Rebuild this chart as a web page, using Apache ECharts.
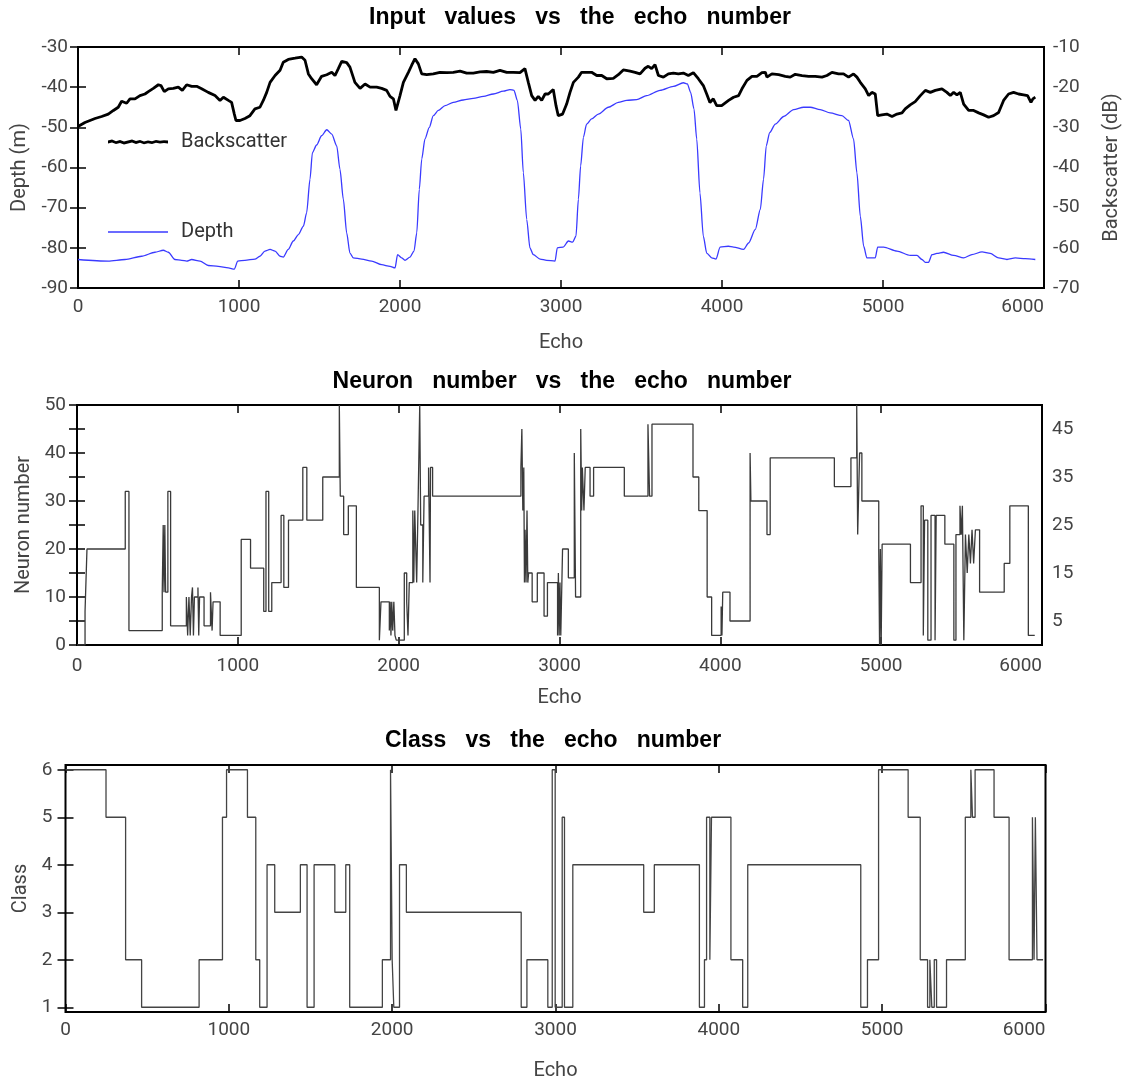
<!DOCTYPE html>
<html>
<head>
<meta charset="utf-8">
<script src="https://cdn.jsdelivr.net/npm/echarts@6/dist/echarts.min.js"></script>
<style>
html,body{margin:0;padding:0;background:#fff;}
#chart{width:1130px;height:1082px;}
</style>
</head>
<body>
<div id="chart"></div>
<script>
// ---------- DATA ----------
const xTicks = [0, 1000, 2000, 3000, 4000, 5000, 6000];

const backscatterEcho = [0,43,106,147,188,220,250,271,302,323,354,385,416,437,468,499,515,536,561,592,623,648,675,706,737,768,809,851,882,903,934,954,971,981,1006,1037,1068,1099,1130,1151,1172,1193,1224,1255,1275,1306,1348,1389,1410,1431,1451,1482,1513,1545,1576,1596,1617,1638,1669,1689,1720,1752,1783,1814,1855,1886,1917,1938,1959,1975,2000,2021,2052,2072,2093,2114,2135,2166,2207,2248,2290,2331,2373,2414,2455,2497,2538,2580,2621,2663,2704,2745,2776,2797,2818,2839,2859,2880,2901,2921,2952,2969,2983,3010,3035,3056,3077,3108,3128,3159,3190,3222,3253,3284,3325,3356,3387,3429,3460,3491,3522,3542,3563,3584,3605,3636,3667,3698,3729,3760,3791,3822,3853,3884,3905,3925,3946,3967,3998,4041,4072,4103,4124,4155,4186,4217,4248,4269,4279,4310,4352,4393,4424,4455,4497,4538,4579,4621,4652,4683,4724,4755,4786,4817,4838,4859,4890,4911,4931,4952,4967,4993,5024,5056,5087,5118,5138,5169,5200,5232,5263,5294,5325,5366,5397,5418,5439,5459,5480,5501,5532,5563,5594,5625,5656,5687,5718,5749,5780,5811,5842,5873,5898,5919,5931,5946];
const backscatterDb = [-29.8,-28.8,-27.8,-27.3,-26.7,-25.8,-25.0,-23.5,-24.0,-22.9,-22.9,-22.1,-21.7,-21.1,-20.3,-19.4,-19.6,-21.1,-20.4,-20.3,-20.0,-20.8,-19.4,-19.8,-19.8,-20.4,-21.3,-22.1,-23.3,-22.5,-23.3,-23.8,-26.7,-28.3,-28.3,-27.8,-27.1,-25.4,-25.0,-23.3,-21.3,-18.8,-17.1,-15.8,-13.8,-13.1,-12.8,-12.5,-13.3,-16.7,-17.9,-19.4,-17.3,-16.9,-16.3,-17.1,-15.4,-13.6,-13.9,-15.0,-18.8,-20.3,-19.2,-20.0,-20.0,-20.3,-20.8,-22.3,-22.9,-25.8,-22.1,-18.8,-16.3,-14.6,-12.9,-14.2,-16.7,-16.9,-16.7,-16.3,-16.4,-16.3,-16.0,-16.5,-16.5,-16.2,-16.1,-16.3,-15.8,-16.3,-16.3,-16.4,-15.4,-18.8,-22.1,-23.3,-22.3,-23.3,-21.7,-21.7,-20.6,-24.6,-27.1,-26.7,-24.2,-21.3,-18.8,-17.5,-16.3,-16.3,-16.3,-17.1,-17.1,-17.9,-17.8,-16.9,-15.7,-16.0,-16.3,-16.7,-15.3,-14.8,-15.4,-14.4,-17.1,-17.5,-16.7,-16.5,-16.7,-16.5,-17.1,-16.4,-17.9,-19.6,-21.7,-23.8,-22.9,-24.6,-24.6,-23.3,-22.5,-22.1,-20.4,-18.3,-17.3,-17.3,-16.4,-16.3,-17.5,-16.7,-16.9,-17.3,-17.5,-16.8,-17.1,-17.3,-17.3,-17.5,-17.1,-16.3,-16.7,-16.7,-17.5,-16.7,-17.5,-18.8,-20.4,-22.1,-21.3,-21.7,-27.1,-26.9,-26.7,-27.3,-26.7,-26.4,-25.4,-24.4,-23.6,-22.1,-20.8,-21.3,-20.8,-20.4,-21.3,-22.1,-21.3,-21.9,-21.3,-24.2,-25.8,-25.8,-26.4,-26.9,-27.5,-27.1,-26.3,-23.3,-21.7,-21.3,-21.7,-21.9,-22.1,-23.8,-22.9,-22.5];

const depthEcho = [0,188,292,395,478,530,561,602,644,675,706,758,809,871,934,971,992,1037,1099,1130,1161,1193,1224,1255,1275,1306,1337,1369,1400,1420,1441,1456,1482,1513,1545,1576,1607,1627,1648,1669,1689,1710,1762,1824,1886,1938,1969,1985,2010,2031,2062,2087,2104,2120,2135,2155,2182,2207,2238,2280,2331,2393,2455,2518,2580,2642,2683,2708,2729,2750,2766,2787,2807,2828,2870,2911,2963,2977,3014,3046,3072,3093,3108,3122,3139,3159,3190,3232,3294,3356,3408,3470,3532,3615,3698,3760,3785,3805,3826,3843,3863,3884,3905,3936,3963,3988,4039,4072,4134,4165,4207,4238,4258,4275,4296,4331,4383,4445,4507,4548,4610,4672,4745,4786,4817,4838,4859,4880,4900,4952,4967,5004,5087,5169,5211,5242,5263,5283,5304,5335,5376,5439,5501,5552,5615,5666,5718,5770,5822,5884,5946];
const depthM = [-82.9,-83.3,-82.9,-82.1,-81.1,-80.6,-81.1,-82.9,-83.1,-83.3,-82.9,-83.3,-84.4,-84.6,-85.0,-85.3,-83.3,-83.1,-82.8,-82.1,-80.8,-80.4,-80.8,-82.1,-82.3,-80.4,-78.3,-76.7,-74.6,-71.3,-62.9,-56.3,-54.4,-52.1,-50.6,-51.7,-54.6,-60.4,-67.9,-76.3,-81.3,-82.5,-82.8,-83.3,-84.2,-84.6,-85.0,-81.7,-82.5,-83.1,-82.3,-80.8,-76.3,-65.4,-57.9,-52.9,-50.0,-47.1,-45.8,-44.6,-43.8,-43.2,-42.8,-42.3,-41.7,-41.0,-40.6,-40.8,-43.3,-50.4,-61.3,-72.9,-80.0,-81.7,-82.8,-83.1,-83.3,-80.0,-79.8,-78.3,-78.6,-77.1,-67.9,-59.6,-52.5,-49.2,-47.9,-46.7,-45.0,-43.8,-43.3,-43.1,-42.1,-40.8,-39.8,-38.9,-39.2,-41.3,-45.4,-52.9,-66.3,-77.1,-81.3,-82.5,-82.8,-79.8,-79.6,-79.8,-80.4,-78.8,-75.4,-70.4,-62.9,-54.6,-51.3,-49.2,-47.3,-45.6,-45.0,-45.0,-45.6,-46.4,-47.1,-48.3,-52.9,-61.3,-72.1,-79.6,-82.5,-82.5,-79.8,-79.8,-80.8,-81.9,-81.9,-82.9,-83.6,-83.6,-81.7,-81.4,-81.1,-81.9,-82.5,-81.7,-81.0,-81.4,-82.5,-82.9,-82.5,-82.7,-82.9];

const neuronStart = [0,50,62,300,323,530,536,541,546,551,565,582,680,688,696,704,712,718,724,730,752,757,762,790,830,840,846,890,1021,1079,1161,1175,1192,1211,1269,1286,1315,1404,1429,1528,1631,1637,1658,1687,1737,1880,1890,1942,1947,1952,1957,1963,1970,1977,1985,2035,2050,2058,2066,2088,2094,2100,2112,2120,2131,2137,2150,2158,2186,2195,2198,2211,2760,2766,2772,2778,2782,2786,2792,2798,2803,2808,2830,2862,2904,2925,2988,2993,2998,3003,3008,3019,3055,3092,3100,3132,3138,3142,3152,3160,3190,3212,3403,3550,3560,3575,3830,3866,3918,3946,4005,4010,4015,4060,4185,4190,4290,4310,4709,4812,4848,4854,4866,4880,4985,4990,4995,5000,5006,5182,5248,5262,5270,5290,5310,5335,5342,5396,5452,5465,5490,5498,5505,5514,5524,5535,5545,5555,5565,5575,5586,5612,5765,5800,5915,5955];
const neuronValue = [0,7,20,32,3,11,25,11,25,11,32,4,10,2,10,2,10,12,2,10,12,2,10,4,11,3,9,2,22,16,7,32,7,13,27,12,26,37,26,35,50,31,23,29,12,1,9,3,9,2,9,3,9,2,1,15,9,2,13,28,13,28,13,28,50,25,13,31,37,13,37,31,37,45,28,37,13,24,13,28,13,15,9,15,6,13,2,15,2,13,2,20,14,40,10,45,28,37,28,37,31,37,31,46,31,46,35,28,10,2,8,2,11,5,40,30,23,39,33,39,50,23,40,30,20,0,20,0,21,13,29,2,26,1,27,1,27,21,1,23,29,23,29,1,23,15,23,17,24,17,24,11,17,29,2,2];

const classStart = [0,248,368,466,818,961,986,1114,1165,1189,1234,1281,1438,1479,1522,1649,1716,1740,1940,1990,2000,2010,2045,2087,2790,2825,2953,2980,2998,3041,3055,3106,3540,3605,3881,3912,3925,3945,3955,4074,4146,4177,4869,4910,4978,5159,5233,5278,5292,5304,5319,5333,5394,5509,5543,5553,5569,5685,5777,5920,5930,5938,5948,5985];
const classValue = [6,5,2,1,2,5,6,5,2,1,4,3,4,1,4,3,4,1,2,6,2,1,4,3,1,2,1,6,1,5,1,4,3,4,1,2,5,2,5,2,1,4,1,2,6,5,2,1,2,1,2,1,2,5,6,5,6,5,2,5,2,5,2,2];

const classTicks = [1, 2, 3, 4, 5, 6];

// ---------- BUILD ----------
const zip = (a, b) => a.map((v, i) => [v, b[i]]);
const labelFont = 'Roboto';
const labelColor = '#444';
const tickStyle = {show: true, inside: true, length: 8, lineStyle: {color: '#000', width: 1.5}};
const grids = [
  {left: 78, right: 86, top: 47, height: 241},
  {left: 77, right: 88, top: 405, height: 240},
  {left: 65.5, right: 84.5, top: 765, height: 247}
];
grids.forEach(g => { g.show = true; g.borderColor = '#000'; g.borderWidth = 2; g.backgroundColor = 'transparent'; });

// jagged legend icon (shape only)
const jagTop = [1, 0, 1.6, 0.5, 2, 1, 0, 1.5, 0.4, 1.8, 0.8, 1.6, 0.3, 1.2, 0.6, 1];
let jag = 'path://M0,' + jagTop[0];
jagTop.forEach((y, i) => { jag += 'L' + (i * 4) + ',' + y; });
for (let i = jagTop.length - 1; i >= 0; i--) jag += 'L' + (i * 4) + ',' + (jagTop[i] + 2.8);
jag += 'Z';

function xBottom(gi, gap, margin) {
  return {
    type: 'value', gridIndex: gi, position: 'bottom', min: 0, max: 6000, interval: 1000,
    name: 'Echo', nameLocation: 'middle', nameGap: gap,
    nameTextStyle: {fontFamily: labelFont, fontSize: 20, color: labelColor},
    axisLine: {show: false, onZero: false}, axisTick: tickStyle, splitLine: {show: false},
    axisLabel: {fontFamily: labelFont, fontSize: 19, color: labelColor, margin: margin, alignMaxLabel: 'right',
      formatter: v => String(v)}
  };
}
function xTop(gi) {
  return {
    type: 'value', gridIndex: gi, position: 'top', min: 0, max: 6000, interval: 1000,
    axisLine: {show: false, onZero: false}, axisTick: tickStyle, splitLine: {show: false},
    axisLabel: {show: false}
  };
}
function titleText(x, y, t) {
  return {type: 'text', x: x, y: y, style: {text: t, fontFamily: 'Liberation Sans', fontWeight: 'bold', fontSize: 23,
    fill: '#000', textAlign: 'center', textVerticalAlign: 'middle'}};
}

const option = {
  animation: false,
  backgroundColor: '#fff',
  grid: grids,
  graphic: [
    titleText(580, 18, 'Input   values   vs   the   echo   number'),
    titleText(562, 382, 'Neuron   number   vs   the   echo   number'),
    titleText(553, 741, 'Class   vs   the   echo   number')
  ],
  legend: {
    data: [{name: 'Backscatter', icon: jag}, {name: 'Depth', icon: 'path://M0,0L60,0L60,1.6L0,1.6Z'}],
    orient: 'vertical', left: 108, top: 132, padding: 0,
    itemWidth: 60, itemHeight: 14, itemGap: 70,
    textStyle: {fontFamily: labelFont, fontSize: 20, color: '#333', padding: [0, 0, 0, 8]}
  },
  xAxis: [xBottom(0, 45, 10), xTop(0), xBottom(1, 43, 12), xTop(1), xBottom(2, 49, 9), xTop(2)],
  yAxis: [
    {type: 'value', gridIndex: 0, position: 'left', min: -90, max: -30, interval: 10,
     name: 'Depth (m)', nameLocation: 'middle', nameGap: 42, nameRotate: 90,
     nameTextStyle: {fontFamily: labelFont, fontSize: 20, color: labelColor},
     axisLine: {show: false}, axisTick: tickStyle, splitLine: {show: false},
     axisLabel: {fontFamily: labelFont, fontSize: 19, color: labelColor, margin: 10}},
    {type: 'value', gridIndex: 0, position: 'right', min: -70, max: -10, interval: 10,
     name: 'Backscatter (dB)', nameLocation: 'middle', nameGap: 58, nameRotate: 90,
     nameTextStyle: {fontFamily: labelFont, fontSize: 20, color: labelColor},
     axisLine: {show: false}, axisTick: tickStyle, splitLine: {show: false},
     axisLabel: {fontFamily: labelFont, fontSize: 19, color: labelColor, margin: 9}},
    {type: 'value', gridIndex: 1, position: 'left', min: 0, max: 50, interval: 5,
     name: 'Neuron number', nameLocation: 'middle', nameGap: 42, nameRotate: 90,
     nameTextStyle: {fontFamily: labelFont, fontSize: 20, color: labelColor},
     axisLine: {show: false}, axisTick: tickStyle, splitLine: {show: false},
     axisLabel: {fontFamily: labelFont, fontSize: 19, color: labelColor, margin: 11,
       formatter: v => (v % 10 === 0 ? String(v) : '')}},
    {type: 'value', gridIndex: 1, position: 'right', min: 0, max: 50, interval: 5,
     axisLine: {show: false}, axisTick: tickStyle, splitLine: {show: false},
     axisLabel: {fontFamily: labelFont, fontSize: 19, color: labelColor, margin: 10,
       formatter: v => (v % 10 === 5 ? String(v) : '')}},
    {type: 'value', gridIndex: 2, position: 'left', min: 0.9, max: 6.1,
     name: 'Class', nameLocation: 'middle', nameGap: 34, nameRotate: 90,
     nameTextStyle: {fontFamily: labelFont, fontSize: 20, color: labelColor},
     axisLine: {show: false}, splitLine: {show: false},
     axisTick: Object.assign({customValues: classTicks}, tickStyle),
     axisLabel: {customValues: classTicks, fontFamily: labelFont, fontSize: 19, color: labelColor, margin: 13}},
    {type: 'value', gridIndex: 2, position: 'right', min: 0.9, max: 6.1,
     axisLine: {show: false}, splitLine: {show: false},
     axisTick: Object.assign({customValues: classTicks}, tickStyle),
     axisLabel: {show: false}}
  ],
  series: [
    {name: 'Backscatter', type: 'line', xAxisIndex: 0, yAxisIndex: 1, data: zip(backscatterEcho, backscatterDb),
     showSymbol: false, symbol: 'none', lineStyle: {color: '#000', width: 2.8}, itemStyle: {color: '#000'}, z: 3},
    {name: 'Depth', type: 'line', xAxisIndex: 0, yAxisIndex: 0, data: zip(depthEcho, depthM),
     showSymbol: false, symbol: 'none', smooth: 0.25, smoothMonotone: 'x',
     lineStyle: {color: '#3a3aff', width: 1.3}, itemStyle: {color: '#3a3aff'}, z: 2},
    {name: 'Neuron', type: 'line', xAxisIndex: 2, yAxisIndex: 2, data: zip(neuronStart, neuronValue),
     step: 'end', showSymbol: false, symbol: 'none', lineStyle: {color: '#3a3a3a', width: 1.3}},
    {name: 'Class', type: 'line', xAxisIndex: 4, yAxisIndex: 4, data: zip(classStart, classValue),
     step: 'end', showSymbol: false, symbol: 'none', lineStyle: {color: '#444', width: 1.3}}
  ]
};

const chart = echarts.init(document.getElementById('chart'), null, {renderer: 'canvas'});
chart.setOption(option);
</script>
</body>
</html>
